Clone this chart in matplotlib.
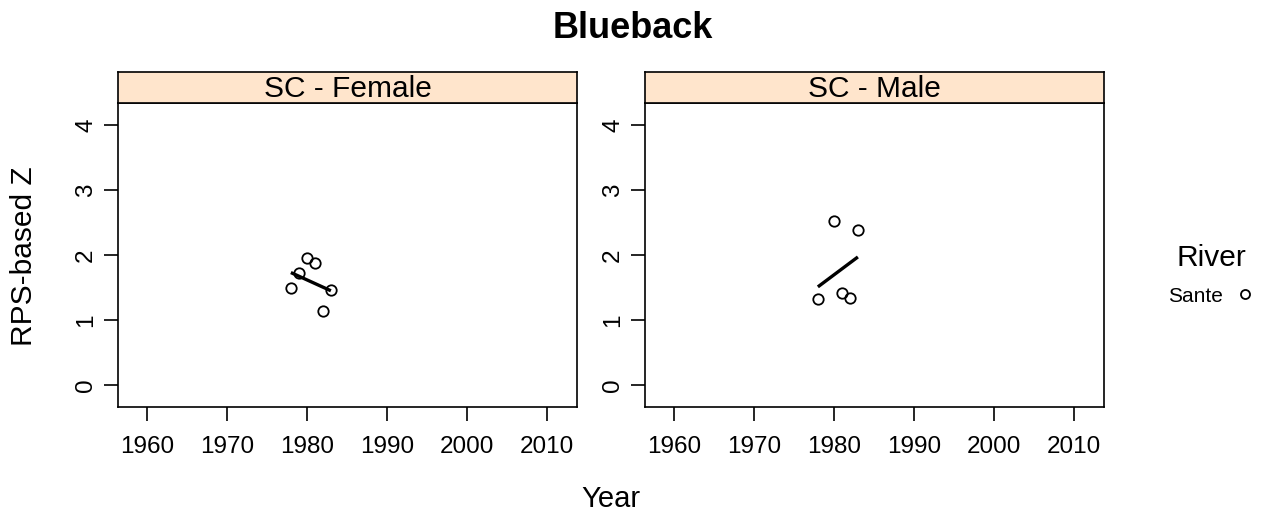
import matplotlib
matplotlib.use("Agg")
import matplotlib.pyplot as plt

plt.rcParams['font.family'] = ['Liberation Sans', 'DejaVu Sans']

# data
panels = ["SC - Female", "SC - Male"]
female_years = [1978, 1979, 1980, 1981, 1982, 1983]
female_z = [1.50, 1.72, 1.96, 1.87, 1.14, 1.46]
male_years = [1978, 1980, 1981, 1982, 1983]
male_z = [1.32, 2.53, 1.41, 1.34, 2.38]
# fitted trend end points
female_trend_years = [1978, 1983]
female_trend = [1.73, 1.45]
male_trend_years = [1978, 1983]
male_trend = [1.51, 1.97]

x_ticks = [1960, 1970, 1980, 1990, 2000, 2010]
y_ticks = [0, 1, 2, 3, 4]

W, H = 1269, 523
fig = plt.figure(figsize=(W / 100, H / 100), dpi=100)

strip_col = "#FFE5CC"
lefts = [118, 645]
pw = 459
top, bottom, strip_top = 103, 407, 72

series = [(female_years, female_z, female_trend_years, female_trend),
          (male_years, male_z, male_trend_years, male_trend)]

for i, (name, (xs, ys, tx, ty)) in enumerate(zip(panels, series)):
    l = lefts[i]
    ax = fig.add_axes([l / W, 1 - bottom / H, pw / W, (bottom - top) / H])
    ax.plot(xs, ys, 'o', mfc='none', mec='black', ms=7.5, mew=1.3)
    ax.plot(tx, ty, '-', color='black', lw=2.4, solid_capstyle='butt')
    ax.set_xlim(1956.4, 2013.75)
    ax.set_ylim(-0.337, 4.337)
    ax.set_xticks(x_ticks)
    ax.set_yticks(y_ticks)
    ax.set_yticklabels([str(v) for v in y_ticks], rotation=90, va='center')
    ax.tick_params(direction='out', length=10, width=1.2, labelsize=17.5)
    ax.tick_params(axis='x', pad=11)
    ax.tick_params(axis='y', pad=5)
    for s in ax.spines.values():
        s.set_linewidth(1.2)

    sax = fig.add_axes([l / W, 1 - top / H, pw / W, (top - strip_top) / H])
    sax.set_facecolor(strip_col)
    sax.set_xticks([])
    sax.set_yticks([])
    for s in sax.spines.values():
        s.set_linewidth(1.2)
    sax.text(0.5, 0.45, name, ha='center', va='center', fontsize=21.5,
             transform=sax.transAxes)

fig.text(633 / W, 1 - 28 / H, "Blueback", ha='center', va='center',
         fontsize=26, fontweight='bold')
fig.text(611 / W, 1 - 499 / H, "Year", ha='center', va='center', fontsize=21)
fig.text(24 / W, 1 - 256 / H, "RPS-based Z", ha='center', va='center',
         fontsize=21.5, rotation=90)

# legend
fig.text(1211 / W, 1 - 258 / H, "River", ha='center', va='center', fontsize=21.5)
fig.text(1223 / W, 1 - 297 / H, "Sante", ha='right', va='center', fontsize=15)
lax = fig.add_axes([1235 / W, 1 - 304 / H, 20 / W, 20 / H])
lax.plot([0.5], [0.5], 'o', mfc='none', mec='black', ms=6.5, mew=1.3)
lax.set_xlim(0, 1)
lax.set_ylim(0, 1)
lax.axis('off')

fig.savefig("out.png", dpi=100)
